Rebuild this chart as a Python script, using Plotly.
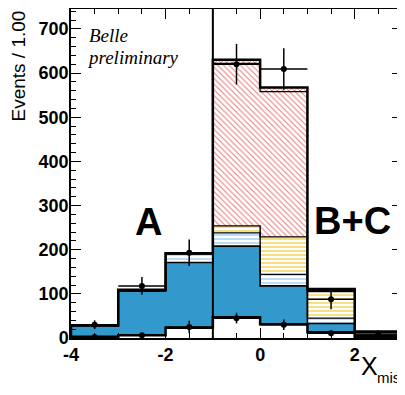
import numpy as np
import plotly.graph_objects as go

# ---- data ----
bin_centers = [-3.5, -2.5, -1.5, -0.5, 0.5, 1.5, 2.5]
bin_edges = [-4, -3, -2, -1, 0, 1, 2, 3]

comp_white = [3, 6, 23, 47, 31, 13, 3]
comp_blue = [25, 100, 148, 161, 87, 20, 2]
comp_lightblue = [0, 2, 19, 30, 26, 12, 2]
comp_yellow = [0, 0, 1, 16, 85, 60, 6]
comp_red = [0, 0, 0, 368, 329, 3, 1]
comp_top = [1, 1, 1, 8, 9, 3, 1]

data_all = [30, 118, 193, 620, 609, 88, 9]
data_all_err = [10, 20, 30, 46, 47, 23, 8]
data_low = [2, 6, 25, 45, 30, 11, 3]
data_low_err = [3, 4, 14, 12, 12, 7, 3]

x_tickvals = [-4, -2, 0, 2]
x_ticktext = ["-4", "-2", "0", "2"]
y_tickvals = [0, 100, 200, 300, 400, 500, 600, 700]
y_ticktext = ["0", "100", "200", "300", "400", "500", "600", "700"]

# ---- figure ----
# page body has an 8px margin, so the figure is sized / placed accordingly
W, H = 397, 387
ML, MR, MT, MB = 63, 3, 1, 57
YMAX = 745

fig = go.Figure()

components = [
    (comp_white, dict(color="white")),
    (comp_blue, dict(color="#3399cc")),
    (comp_lightblue, dict(color="white", pattern=dict(shape="-", fgcolor="#9fd0f0", bgcolor="white", size=4, solidity=0.35, fillmode="replace"))),
    (comp_yellow, dict(color="white", pattern=dict(shape="-", fgcolor="#f3d250", bgcolor="white", size=4, solidity=0.35, fillmode="replace"))),
    (comp_red, dict(color="white", pattern=dict(shape="\\", fgcolor="#e98080", bgcolor="white", size=4, solidity=0.28, fillmode="replace"))),
    (comp_top, dict(color="white", pattern=dict(shape="x", fgcolor="#d84040", bgcolor="white", size=4, solidity=0.3, fillmode="replace"))),
]
for vals, mk in components:
    mk = dict(mk)
    mk["line"] = dict(width=0)
    fig.add_trace(go.Bar(x=bin_centers, y=vals, width=1.0, marker=mk,
                         showlegend=False, hoverinfo="skip"))

# step outlines of cumulative stacks
cum = np.cumsum(np.array([c for c, _ in components]), axis=0)
line_widths = [2.5, 1.6, 1.4, 1.4, 1.2, 2.5]
for i, w in enumerate(line_widths):
    c = list(cum[i])
    xs = [bin_edges[0]] + bin_edges + [bin_edges[-1]]
    ys = [0] + c + [c[-1]] + [0]
    fig.add_trace(go.Scatter(x=xs, y=ys, mode="lines", line=dict(color="black", width=w, shape="hv"),
                             showlegend=False, hoverinfo="skip"))

# data points
for vals, errs in [(data_low, data_low_err), (data_all, data_all_err)]:
    fig.add_trace(go.Scatter(
        x=bin_centers, y=vals, mode="markers",
        marker=dict(color="black", size=6),
        error_y=dict(type="data", array=errs, color="black", thickness=1.5, width=0),
        error_x=dict(type="constant", value=0.5, color="black", thickness=1.5, width=0),
        showlegend=False, hoverinfo="skip"))

fig.add_shape(type="line", x0=-1, x1=-1, y0=0, y1=1, xref="x", yref="paper",
              line=dict(color="black", width=2))

big = dict(family="Liberation Sans, Arial, sans-serif", size=38, color="black", weight="bold")
fig.add_annotation(x=-2.37, y=263, text="A", showarrow=False, font=big,
                   xanchor="center", yanchor="middle")
fig.add_annotation(x=1.96, y=265, text="B+C", showarrow=False, font=big,
                   xanchor="center", yanchor="middle")

serif = dict(family="Liberation Serif, Times New Roman, serif", size=19, color="black", style="italic")
fig.add_annotation(x=-3.66, y=(338 - 36) / 0.4414, text="Belle", showarrow=False, font=serif,
                   xanchor="left", yanchor="middle")
fig.add_annotation(x=-3.70, y=(338 - 58) / 0.4414, text="preliminary", showarrow=False, font=serif,
                   xanchor="left", yanchor="middle")

# axis titles
sans = "Liberation Sans, Arial, sans-serif"
fig.add_annotation(xref="paper", yref="paper", x=-0.160, y=1.0, text="Events / 1.00",
                   textangle=-90, showarrow=False,
                   font=dict(family=sans, size=19, color="black"),
                   xanchor="center", yanchor="top")
fig.add_annotation(xref="paper", yref="paper", x=0.870, y=-0.0836, text="X",
                   showarrow=False, font=dict(family=sans, size=25, color="black"),
                   xanchor="left", yanchor="middle")
fig.add_annotation(xref="paper", yref="paper", x=0.9184, y=-0.1195, text="mis",
                   showarrow=False, font=dict(family=sans, size=15, color="black"),
                   xanchor="left", yanchor="middle")

tickfont = dict(family=sans, size=18, color="black", weight="bold")
fig.update_layout(
    width=W, height=H,
    margin=dict(l=ML, r=MR, t=MT, b=MB, autoexpand=False),
    barmode="stack", bargap=0,
    plot_bgcolor="white", paper_bgcolor="white",
    xaxis=dict(range=[-4, 3], tickvals=x_tickvals, ticktext=x_ticktext, ticks="inside",
               ticklen=10, tickwidth=1.2, tickcolor="black",
               minor=dict(dtick=0.5, tick0=0, ticks="inside", ticklen=5, tickcolor="black", tickwidth=1.2),
               showline=True, linecolor="black", linewidth=1.5, mirror="allticks",
               showgrid=False, zeroline=False, tickfont=tickfont),
    yaxis=dict(range=[0, YMAX], tickvals=y_tickvals, ticktext=y_ticktext, ticks="inside",
               ticklen=10, tickwidth=1.2, tickcolor="black",
               minor=dict(dtick=20, tick0=0, ticks="inside", ticklen=5, tickcolor="black", tickwidth=1.2),
               showline=True, linecolor="black", linewidth=1.5, mirror="allticks",
               showgrid=False, zeroline=False, tickfont=tickfont, ticklabelstandoff=-3),
)

fig.write_html("out.html")
